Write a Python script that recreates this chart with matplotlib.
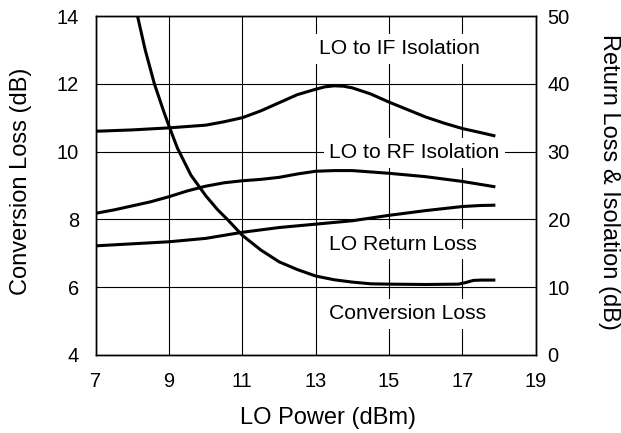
import matplotlib
matplotlib.use("Agg")
import matplotlib.pyplot as plt

plt.rcParams['font.family'] = ['Liberation Sans', 'DejaVu Sans']

# LO power sweep (dBm) and the curves
conv_x = [8.14, 8.35, 8.6, 8.85, 9.0, 9.23, 9.6, 10.0, 10.33, 10.59, 11.0, 11.5, 12.0,
          12.5, 13.0, 13.5, 14.0, 14.5, 15.0, 16.0, 16.9, 17.1, 17.3, 17.5, 17.9]
conv_loss = [14.0, 13.0, 12.0, 11.2, 10.75, 10.1, 9.3, 8.7, 8.28, 8.0, 7.53, 7.1, 6.75,
             6.52, 6.33, 6.22, 6.15, 6.1, 6.09, 6.08, 6.09, 6.14, 6.2, 6.21, 6.21]

if_x = [7, 8, 9, 10, 10.5, 11, 11.5, 12, 12.5, 13, 13.25, 13.5, 13.75, 14, 14.5, 15,
        15.5, 16, 16.5, 17, 17.5, 17.9]
lo_if_iso = [33.0, 33.2, 33.5, 33.9, 34.4, 35.0, 36.0, 37.2, 38.4, 39.2, 39.55, 39.7,
             39.65, 39.4, 38.5, 37.3, 36.2, 35.1, 34.2, 33.4, 32.8, 32.3]

rf_x = [7, 7.5, 8, 8.5, 9, 9.5, 10, 10.5, 11, 11.5, 12, 12.5, 13, 13.5, 14, 15, 16,
        17, 17.9]
lo_rf_iso = [20.9, 21.4, 22.0, 22.6, 23.35, 24.2, 24.9, 25.4, 25.7, 25.9, 26.2, 26.7,
             27.1, 27.2, 27.2, 26.8, 26.3, 25.6, 24.8]

rl_x = [7, 8, 9, 10, 11, 12, 13, 14, 15, 16, 17, 17.5, 17.9]
lo_return = [16.1, 16.4, 16.7, 17.2, 18.1, 18.8, 19.3, 19.8, 20.6, 21.3, 21.9, 22.05, 22.1]

x_ticks = [7, 9, 11, 13, 15, 17, 19]
left_ticks = [4, 6, 8, 10, 12, 14]
right_ticks = [0, 10, 20, 30, 40, 50]

fig = plt.figure(figsize=(6.21, 4.33), dpi=100)
ax = fig.add_axes([95.7 / 621, 1 - 355 / 433, 440 / 621, 339 / 433])
ax2 = ax.twinx()

ax.set_xlim(7, 19)
ax.set_ylim(4, 14)
ax2.set_ylim(0, 50)
ax.set_xticks(x_ticks)
ax.set_yticks(left_ticks)
ax2.set_yticks(right_ticks)

ax.grid(True, color='black', linewidth=0.8)
ax.set_axisbelow(True)
ax.tick_params(axis='both', length=0, labelsize=14.4, pad=12)
ax2.tick_params(axis='y', length=0, labelsize=14.4, pad=8.5)
for a in (ax, ax2):
    for s in a.spines.values():
        s.set_linewidth(1.0)
        s.set_color('black')

lw = 2.2
ax.plot(conv_x, conv_loss, color='black', lw=lw, solid_capstyle='butt')
ax2.plot(if_x, lo_if_iso, color='black', lw=lw, solid_capstyle='butt')
ax2.plot(rf_x, lo_rf_iso, color='black', lw=lw, solid_capstyle='butt')
ax2.plot(rl_x, lo_return, color='black', lw=lw, solid_capstyle='butt')

box = dict(facecolor='white', edgecolor='none', pad=4)
ax.text(13.10, 12.87, 'LO to IF Isolation', fontsize=15.2, ha='left', va='baseline', bbox=box, zorder=1.5)
ax.text(13.37, 9.80, 'LO to RF Isolation', fontsize=15.2, ha='left', va='baseline', bbox=box, zorder=1.5)
ax.text(13.37, 7.10, 'LO Return Loss', fontsize=15.2, ha='left', va='baseline', bbox=box, zorder=1.5)
ax.text(13.37, 5.05, 'Conversion Loss', fontsize=15.2, ha='left', va='baseline', bbox=box, zorder=1.5)

fig.text(20.8 / 621, 1 - 181.5 / 433, 'Conversion Loss (dB)', rotation=90,
         ha='center', va='center', fontsize=17)
fig.text(608.5 / 621, 1 - 181.5 / 433, 'Return Loss & Isolation (dB)', rotation=270,
         ha='center', va='center', fontsize=17)
fig.text(327.7 / 621, 1 - 424 / 433, 'LO Power (dBm)', ha='center', va='baseline', fontsize=17)

fig.savefig('out.png', dpi=100)
